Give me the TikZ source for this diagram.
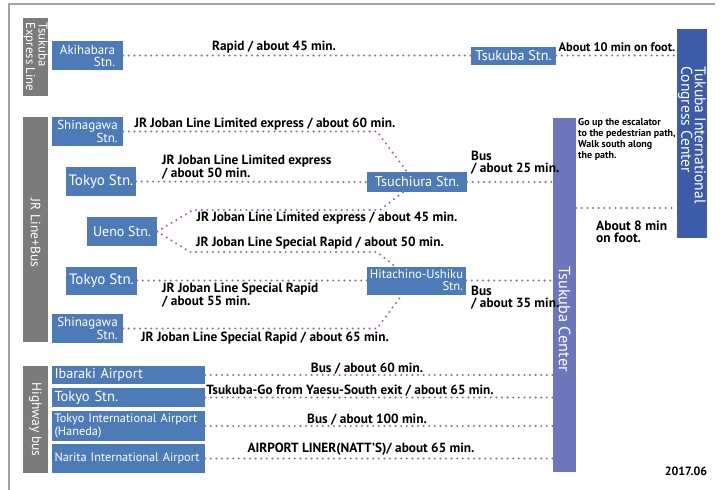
\documentclass[tikz,border=0pt]{standalone}
\usepackage{fontspec}
\setmainfont{PT Sans}
\newfontfamily\widesans{PT Sans}
\definecolor{stnblue}{HTML}{4D7BB7}
\definecolor{grpgray}{HTML}{7B7B7B}
\definecolor{ticcblue}{HTML}{3D5CA8}
\definecolor{cenblue}{HTML}{6C76BB}
\definecolor{dotpurple}{HTML}{A862B8}
\begin{document}
\begin{tikzpicture}[x=1pt,y=-1pt,
stn/.style={fill=stnblue,text=white,inner sep=0pt,font=\fontsize{13}{12}\selectfont,align=right},
bus/.style={fill=stnblue,text=white,inner sep=0pt,minimum width=153pt,text width=148pt,font=\fontsize{12.3}{11}\selectfont},
grp/.style={fill=grpgray,text=white,inner sep=0pt,minimum width=25pt},
grplbl/.style={white,rotate=-90,inner sep=0pt,align=left,font=\widesans\fontsize{13.5}{12.5}\selectfont},
lbl/.style={inner sep=0pt,font=\bfseries\fontsize{13.3}{11.8}\selectfont,align=left},
dotline/.style={dotpurple,line width=2.3pt,line cap=round,dash pattern=on 0pt off 5.6pt}]
\useasboundingbox (0,0) rectangle (723,490);
\fill[white] (0,0) rectangle (723,490);
\draw[grpgray!70,line width=1.5pt] (9,490) -- (9,4) -- (715,4);
\node[grp,minimum height=78pt] (tx) at (35.5,57) {};
\node[grplbl,font=\widesans\fontsize{12.8}{12.5}\selectfont] at (tx) {Tsukuba\\Express Line};
\node[grp,minimum height=225pt] (jr) at (35.5,229.5) {};
\node[grplbl] at (35.5,233) {JR Line+Bus};
\node[grp,minimum height=107pt] (hw) at (35.5,419.5) {};
\node[grplbl] at (hw) {Highway bus};
\node[stn,minimum width=71pt,minimum height=29pt] (aki) at (87.5,55.5) {Akihabara\\Stn.};
\node[stn,minimum width=85pt,minimum height=18pt,font=\fontsize{14.2}{12}\selectfont] (tsustn) at (513.5,55.5) {Tsukuba Stn.};
\node[fill=ticcblue,minimum width=30pt,minimum height=209pt,inner sep=0pt] (ticc) at (692,133.5) {};
\node[white,rotate=-90,align=left,inner sep=0pt,font=\widesans\fontsize{15.5}{13.5}\selectfont] at (692,135) {Tukuba International\\Congress Center};
\node[fill=cenblue,minimum width=23pt,minimum height=354pt,inner sep=0pt] (tcen) at (564.5,295) {};
\node[white,rotate=-90,inner sep=0pt,font=\widesans\fontsize{16.3}{14}\selectfont] at (564.5,319) {Tsukuba Center};
\node[stn,minimum width=71pt,minimum height=29pt] (shinaA) at (87.5,131.5) {Shinagawa\\Stn.};
\node[stn,minimum width=70pt,minimum height=29pt,font=\fontsize{15}{12}\selectfont] (tokyoA) at (101,181.5) {Tokyo Stn.};
\node[stn,minimum width=70pt,minimum height=29pt,font=\fontsize{14}{12}\selectfont] (ueno) at (122,231.5) {Ueno Stn.};
\node[stn,minimum width=71pt,minimum height=28pt,font=\fontsize{15}{12}\selectfont] (tokyoB) at (101.5,280.5) {Tokyo Stn.};
\node[stn,minimum width=71pt,minimum height=29pt] (shinaB) at (87.5,328.5) {Shinagawa\\Stn.};
\node[stn,minimum width=100pt,minimum height=20pt,font=\fontsize{14.2}{12}\selectfont] (tsuchi) at (417,182) {Tsuchiura Stn.};
\node[stn,minimum width=99pt,minimum height=28pt,font=\fontsize{12.6}{12}\selectfont] (hitachi) at (416.5,280.5) {Hitachino-Ushiku\\Stn.};
\node[bus,minimum height=18pt,font=\fontsize{14.2}{12}\selectfont] (ibaraki) at (128.5,375) {Ibaraki Airport};
\node[bus,minimum height=19pt,font=\fontsize{14.5}{12}\selectfont] (tokyoC) at (128.5,397.5) {Tokyo Stn.};
\node[bus,minimum height=30pt,align=left] (haneda) at (128.5,426) {Tokyo International Airport\\(Haneda)};
\node[bus,minimum height=29pt] (narita) at (128.5,458.5) {Narita International Airport};
\coordinate (a1) at (377,131.5);
\coordinate (a2) at (193,210);
\coordinate (a3) at (380,210);
\coordinate (b1) at (190,252);
\coordinate (b2) at (377,252);
\coordinate (c1) at (377,328.5);
\draw[dotline] (aki) -- (tsustn);
\draw[dotline] (tsustn) -- (tsustn -| ticc.west);
\draw[dotline] (shinaA.east) -- (a1) -- (tsuchi.north -| 407,0);
\draw[dotline] (tokyoA.east) -- (tsuchi.west);
\draw[dotline] (tsuchi.east) -- (tsuchi -| tcen.west);
\draw[dotline] (ueno.east) -- (a2) -- (a3) -- (tsuchi.south -| 403,0);
\draw[dotline] (ueno.east) -- (b1) -- (b2) -- (hitachi.north -| 395,0);
\draw[dotline] (tokyoB.east) -- (hitachi.west);
\draw[dotline] (hitachi.east) -- (hitachi -| tcen.west);
\draw[dotline] (shinaB.east) -- (c1) -- (hitachi.south -| 402,0);
\draw[dotline] (tcen.east |- 0,208) -- (ticc.west |- 0,208);
\foreach \n in {ibaraki,tokyoC,haneda,narita} {
\draw[dotline] (\n.east) -- (\n -| tcen.west);
}
\node[lbl] at (274,47) {Rapid / about 45 min.};
\node[lbl,font=\bfseries\fontsize{12.4}{11}\selectfont] at (617,47) {About 10 min on foot.};
\node[lbl] at (265,124) {JR Joban Line Limited express / about 60 min.};
\node[lbl,anchor=west] at (162,167) {JR Joban Line Limited express\\/ about 50 min.};
\node[lbl,anchor=west] at (471,163) {Bus\\/ about 25 min.};
\node[lbl] at (327,218) {JR Joban Line Limited express / about 45 min.};
\node[lbl] at (320,243) {JR Joban Line Special Rapid / about 50 min.};
\node[lbl,anchor=west] at (162,295) {JR Joban Line Special Rapid\\/ about 55 min.};
\node[lbl,anchor=west] at (471,298) {Bus\\/ about 35 min.};
\node[lbl] at (265,338) {JR Joban Line Special Rapid / about 65 min.};
\node[lbl,anchor=north west,font=\bfseries\fontsize{10}{11}\selectfont] at (578,118) {Go up the escalator\\to the pedestrian path,\\Walk south along\\the path.};
\node[lbl,anchor=west,font=\bfseries\fontsize{13.5}{12.5}\selectfont] at (596,232) {About 8 min\\on foot.};
\node[lbl] at (367,369) {Bus / about 60 min.};
\node[lbl] at (350,391) {Tsukuba-Go from Yaesu-South exit / about 65 min.};
\node[lbl] at (367,420) {Bus / about 100 min.};
\node[lbl] at (361,449) {AIRPORT LINER(NATT'S)/ about 65 min.};
\node[lbl,font=\bfseries\fontsize{12}{11}\selectfont] at (686,471) {2017.06};
\end{tikzpicture}
\end{document}
